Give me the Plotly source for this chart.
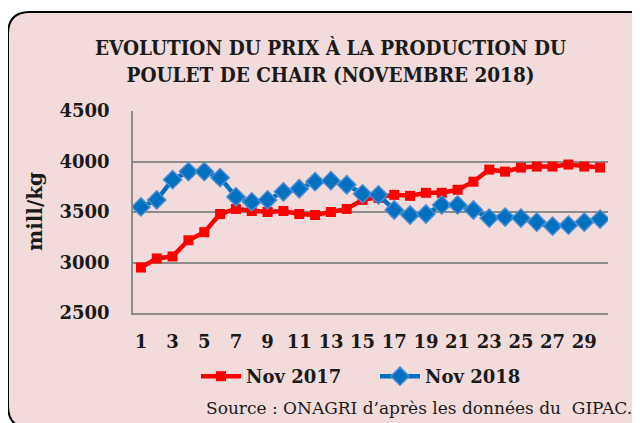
import plotly.graph_objects as go

days = list(range(1, 31))
nov_2017 = [2950, 3040, 3060, 3220, 3300, 3480, 3530, 3510, 3500, 3510,
            3480, 3470, 3500, 3530, 3620, 3640, 3670, 3660, 3690, 3690,
            3720, 3800, 3920, 3900, 3940, 3950, 3950, 3970, 3950, 3940]
nov_2018 = [3550, 3620, 3820, 3900, 3900, 3840, 3650, 3600, 3620, 3700,
            3730, 3800, 3810, 3770, 3680, 3670, 3520, 3470, 3480, 3570,
            3570, 3520, 3440, 3450, 3440, 3400, 3360, 3370, 3400, 3430]
x_ticks = list(range(1, 31, 2))
y_ticks = [2500, 3000, 3500, 4000, 4500]

title_text = "EVOLUTION DU PRIX À LA PRODUCTION DU<br>POULET DE CHAIR (NOVEMBRE 2018)"
y_title = "mill/kg"
source_text = "Source : ONAGRI d\u2019après les données du  GIPAC."

# the page body has an 8px margin: the figure starts at (8, 8) in the window
OFF = 8
W, H = 640 - OFF, 423 - OFF
L, R, T, B = 133, 608, 111, 313          # plot area in window pixels
PW, PH = R - L, B - T

def px(x):
    return (x - L) / PW

def py(y):
    return (B - y) / PH

SERIF = "DejaVu Serif"
BG = "#F2DCDB"
INK = "#1a1a1a"

fig = go.Figure()
fig.add_trace(go.Scatter(
    x=days, y=nov_2017, name="Nov 2017", mode="lines+markers",
    line=dict(color="#FF0000", width=4.5),
    marker=dict(symbol="square", size=10, color="#FF0000"),
    legend="legend",
))
fig.add_trace(go.Scatter(
    x=days, y=nov_2018, name="Nov 2018", mode="lines+markers",
    line=dict(color="#0070C0", width=4.5),
    marker=dict(symbol="diamond", size=14, color="#0070C0",
                line=dict(color="#4A8CD0", width=1.5)),
    legend="legend2",
))

# rounded frame
x0, y0, x1, y1, r = 8, 12, 652, 428, 22
path = (f"M {px(x0)},{py(y0 + r)} "
        f"Q {px(x0)},{py(y0)} {px(x0 + r)},{py(y0)} "
        f"L {px(x1 - r)},{py(y0)} "
        f"Q {px(x1)},{py(y0)} {px(x1)},{py(y0 + r)} "
        f"L {px(x1)},{py(y1 - r)} "
        f"Q {px(x1)},{py(y1)} {px(x1 - r)},{py(y1)} "
        f"L {px(x0 + r)},{py(y1)} "
        f"Q {px(x0)},{py(y1)} {px(x0)},{py(y1 - r)} Z")
fig.add_shape(type="path", path=path, xref="paper", yref="paper",
              fillcolor=BG, line=dict(color="black", width=2), layer="below")

fig.add_annotation(text=f"<b>{title_text}</b>", xref="paper", yref="paper",
                   x=px(330), y=py(61), xanchor="center", yanchor="middle",
                   showarrow=False, align="center",
                   font=dict(family="DejaVu Serif Condensed, DejaVu Serif", size=20.5, color=INK))
fig.add_annotation(text=f"<b>{y_title}</b>", xref="paper", yref="paper",
                   x=px(35), y=py(212), xanchor="center", yanchor="middle",
                   textangle=-90, showarrow=False,
                   font=dict(family=SERIF, size=20, color=INK))
fig.add_annotation(text=source_text, xref="paper", yref="paper",
                   x=px(634), y=py(408), xanchor="right", yanchor="middle",
                   showarrow=False,
                   font=dict(family=SERIF, size=17, color=INK))

legend_font = dict(family=SERIF, size=18, color=INK, weight="bold")
fig.update_layout(
    width=W, height=H,
    margin=dict(l=L - OFF, r=640 - R, t=T - OFF, b=423 - B, pad=0),
    paper_bgcolor="white",
    plot_bgcolor="rgba(0,0,0,0)",
    showlegend=True,
    legend=dict(orientation="h", x=px(196), y=py(358), xanchor="left", yanchor="top",
                bgcolor="rgba(0,0,0,0)", font=legend_font, itemwidth=40),
    legend2=dict(orientation="h", x=px(375), y=py(358), xanchor="left", yanchor="top",
                 bgcolor="rgba(0,0,0,0)", font=legend_font, itemwidth=40),
    xaxis=dict(range=[0.5, 30.5], tickmode="array", tickvals=x_ticks,
               ticktext=[str(v) for v in x_ticks], showgrid=False, zeroline=False,
               showline=True, linecolor="#8c8c8c", linewidth=1.5, ticks="",
               ticklabelstandoff=12,
               tickfont=dict(family=SERIF, size=18, color=INK, weight="bold")),
    yaxis=dict(range=[2500, 4500], tickmode="array", tickvals=y_ticks,
               showgrid=True, gridcolor="#8c8c8c", gridwidth=1.5, zeroline=False,
               showline=True, linecolor="#8c8c8c", linewidth=1.5, ticks="",
               ticklabelstandoff=18,
               tickfont=dict(family=SERIF, size=18, color=INK, weight="bold")),
)

fig.write_html("out.html")
